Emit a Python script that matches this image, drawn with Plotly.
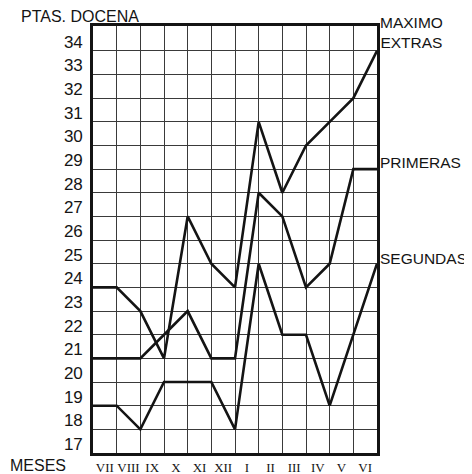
import plotly.graph_objects as go

months = ["VII", "VIII", "IX", "X", "XI", "XII", "I", "II", "III", "IV", "V", "VI"]
# 13 readings at the month boundaries (grid lines)
points = list(range(13))
maximo_extras = [24, 24, 23, 21, 27, 25, 24, 31, 28, 30, 31, 32, 34]
primeras = [21, 21, 21, 22, 23, 21, 21, 28, 27, 24, 25, 29, 29]
segundas = [19, 19, 18, 20, 20, 20, 18, 25, 22, 22, 19, 22, 25]
y_ticks = list(range(17, 35))

SANS = "Liberation Sans"
SERIF = "Liberation Serif"
INK = "#141414"

fig = go.Figure()
for vals in (maximo_extras, primeras, segundas):
    fig.add_trace(go.Scatter(x=points, y=vals, mode="lines",
                             line=dict(color=INK, width=2.6), showlegend=False,
                             hoverinfo="skip"))

# page body adds an 8px offset; size the figure to fit the 472x474 window
fig.update_layout(
    width=464, height=466,
    margin=dict(l=85, r=95, t=18, b=21, autoexpand=False),
    paper_bgcolor="white", plot_bgcolor="white",
    showlegend=False,
)
fig.update_xaxes(
    range=[0, 12], tickmode="array",
    tickvals=[i + 0.5 for i in range(len(months))], ticktext=months,
    tickangle=0, automargin=False,
    showgrid=False, ticks="", zeroline=False,
    ticklabelstandoff=1,
    tickfont=dict(family=SERIF, size=13, color=INK),
    minor=dict(tickmode="array", tickvals=points, showgrid=True,
               gridcolor="#3a3a3a", gridwidth=1.1, ticks=""),
    showline=True, mirror=True, linecolor=INK, linewidth=2.6,
)
fig.update_yaxes(
    range=[17, 35.05], tickmode="array", tickvals=y_ticks,
    ticktext=[str(v) for v in y_ticks], automargin=False,
    showgrid=True, gridcolor="#3a3a3a", gridwidth=1.1,
    ticks="", zeroline=False, ticklabelstandoff=4, ticklabelshift=-9,
    tickfont=dict(family=SANS, size=17, color=INK),
    showline=True, mirror=True, linecolor=INK, linewidth=2.6,
)

def note(text, x, y, xref, yref, xanchor, yanchor, size=15.5, **kw):
    fig.add_annotation(text=text, x=x, y=y, xref=xref, yref=yref,
                       xanchor=xanchor, yanchor=yanchor, showarrow=False,
                       font=dict(family=SANS, size=size, color=INK), **kw)

note("PTAS. DOCENA", -0.26, 1, "paper", "paper", "left", "bottom", size=16, yshift=-1)
note("MESES", -0.3, 0, "paper", "paper", "left", "top", size=16, yshift=-2)
note("MAXIMO<br>EXTRAS", 1, 34.76, "paper", "y", "left", "middle", xshift=1)
note("PRIMERAS", 1, 29.26, "paper", "y", "left", "middle", xshift=1)
note("SEGUNDAS", 1, 25.24, "paper", "y", "left", "middle", xshift=1)

fig.write_html("out.html")
